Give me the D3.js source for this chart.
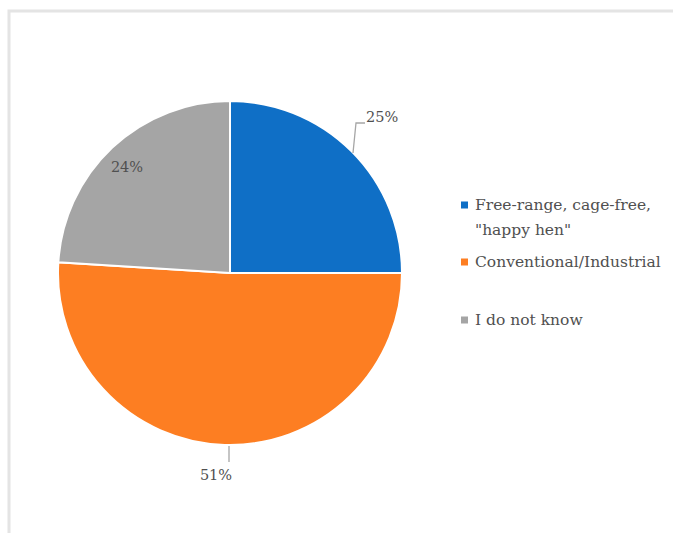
<!DOCTYPE html>
<html><head><meta charset="utf-8">
<script src="https://cdn.jsdelivr.net/npm/d3@7"></script>
<style>body{margin:0;background:#fff}</style>
</head><body>
<svg id="c" width="673" height="533"></svg>
<script>
const categories = ["Free-range, cage-free, \"happy hen\"", "Conventional/Industrial", "I do not know"];
const legendLines = [["Free-range, cage-free,", "\"happy hen\""], ["Conventional/Industrial"], ["I do not know"]];
const values = [25, 51, 24];
const labels = ["25%", "51%", "24%"];
const colors = ["#0F6FC6", "#FD7E22", "#A5A5A5"];

const svg = d3.select("#c");
const font = "'DejaVu Serif', serif";
// frame
svg.append("path").attr("d","M9,540 V11 H680").attr("fill","none").attr("stroke","#e4e4e4").attr("stroke-width",3);

const cx = 230, cy = 273, r = 172;
const pie = d3.pie().sort(null).value(d=>d)(values);
const arc = d3.arc().innerRadius(0).outerRadius(r);
const g = svg.append("g").attr("transform",`translate(${cx},${cy})`);
g.selectAll("path").data(pie).join("path")
  .attr("d",arc).attr("fill",(d,i)=>colors[i])
  .attr("stroke","#fff").attr("stroke-width",2);

const lc = "#505050";
// 25% outside with leader
g.append("polyline").attr("points",`123,-120 126,-150 135,-150`)
  .attr("fill","none").attr("stroke","#a6a6a6").attr("stroke-width",1.3);
g.append("text").attr("x",136).attr("y",-156).attr("dy","0.35em").text(labels[0]);
// 51%
g.append("line").attr("x1",-1).attr("y1",r+1).attr("x2",-1).attr("y2",r+17)
  .attr("stroke","#a6a6a6").attr("stroke-width",1.3);
g.append("text").attr("x",-14).attr("y",r+30).attr("dy","0.35em").attr("text-anchor","middle").text(labels[1]);
// 24% inside
g.append("text").attr("x",-103).attr("y",-106).attr("dy","0.35em").attr("text-anchor","middle").text(labels[2]);
g.selectAll("text").attr("font-family",font).attr("font-size",14.5).attr("fill",lc);

// legend
const ly = [205, 262, 320];
const lg = svg.append("g");
legendLines.forEach((lines,i)=>{
  lg.append("rect").attr("x",461).attr("y",ly[i]-3.5).attr("width",7).attr("height",7).attr("fill",colors[i]);
  lines.forEach((t,j)=>{
    lg.append("text").attr("x",475).attr("y",ly[i]+j*25).attr("dy","0.35em")
      .attr("font-family",font).attr("font-size",15.5).attr("fill",lc).text(t);
  });
});
</script>
</body></html>
